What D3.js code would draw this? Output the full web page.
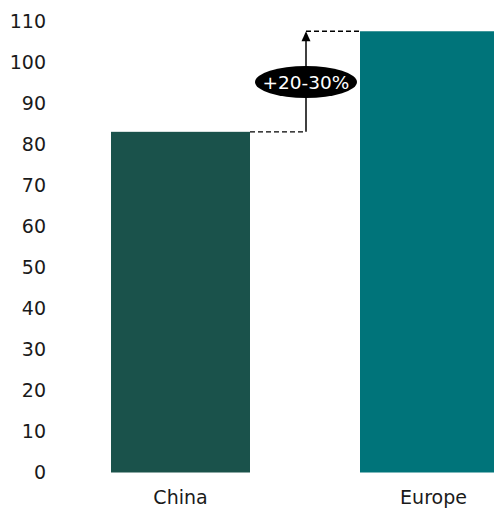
<!DOCTYPE html>
<html>
<head>
<meta charset="utf-8">
<script src="https://cdn.jsdelivr.net/npm/d3@7"></script>
<style>
  html, body { margin: 0; padding: 0; background: #fff; }
  svg { display: block; }
  text { font-family: "DejaVu Sans", Verdana, sans-serif; }
</style>
</head>
<body>
<svg id="chart" width="494" height="508"></svg>
<script>
// Cost index by region
const categories = ["China", "Europe"];
const values = [83, 107.5];
const barColors = ["#1A524B", "#00747A"];
const yTicks = [0, 10, 20, 30, 40, 50, 60, 70, 80, 90, 100, 110];
const gapLabel = "+20-30%";

const svg = d3.select("#chart");

const y = d3.scaleLinear().domain([0, 110]).range([472.5, 21]);
const x = d3.scaleBand().domain(categories).range([1, 609])
  .paddingInner(0.4418).paddingOuter(0.4418);

// y axis: labels only
const yAxis = svg.append("g")
  .attr("transform", "translate(46,0)")
  .call(d3.axisLeft(y).tickValues(yTicks).tickSize(0).tickPadding(0));
yAxis.select(".domain").remove();
yAxis.selectAll("text")
  .attr("font-size", 19)
  .attr("fill", "#1a1a1a")
  .attr("font-family", "DejaVu Sans, Verdana, sans-serif");

// bars
svg.append("g").selectAll("rect")
  .data(categories)
  .join("rect")
  .attr("x", d => x(d))
  .attr("width", x.bandwidth())
  .attr("y", (d, i) => y(values[i]))
  .attr("height", (d, i) => y(0) - y(values[i]))
  .attr("fill", (d, i) => barColors[i]);

// category labels
svg.append("g").selectAll("text")
  .data(categories)
  .join("text")
  .attr("x", d => x(d) + x.bandwidth() / 2 + (d === "Europe" ? 4 : 0))
  .attr("y", 504)
  .attr("text-anchor", "middle")
  .attr("font-size", 19)
  .attr("fill", "#1a1a1a")
  .text(d => d);

// gap annotation between the two bars
const xa = 306;
const yLow = y(values[0]);
const yHigh = y(values[1]);
const ann = svg.append("g");
ann.append("line")
  .attr("x1", x("China") + x.bandwidth()).attr("x2", xa)
  .attr("y1", yLow).attr("y2", yLow)
  .attr("stroke", "#000").attr("stroke-width", 1.3)
  .attr("stroke-dasharray", "5,3");
ann.append("line")
  .attr("x1", xa).attr("x2", x("Europe"))
  .attr("y1", yHigh).attr("y2", yHigh)
  .attr("stroke", "#000").attr("stroke-width", 1.3)
  .attr("stroke-dasharray", "5,3");
ann.append("line")
  .attr("x1", xa).attr("x2", xa)
  .attr("y1", yLow).attr("y2", yHigh + 9)
  .attr("stroke", "#000").attr("stroke-width", 1.5);
ann.append("path")
  .attr("d", `M${xa},${yHigh} L${xa - 4.5},${yHigh + 10} L${xa + 4.5},${yHigh + 10} Z`)
  .attr("fill", "#000");
ann.append("ellipse")
  .attr("cx", xa).attr("cy", 82)
  .attr("rx", 51).attr("ry", 16)
  .attr("fill", "#000");
ann.append("text")
  .attr("x", xa).attr("y", 82)
  .attr("dy", "0.36em")
  .attr("text-anchor", "middle")
  .attr("font-size", 18.5)
  .attr("fill", "#fff")
  .text(gapLabel);
</script>
</body>
</html>
